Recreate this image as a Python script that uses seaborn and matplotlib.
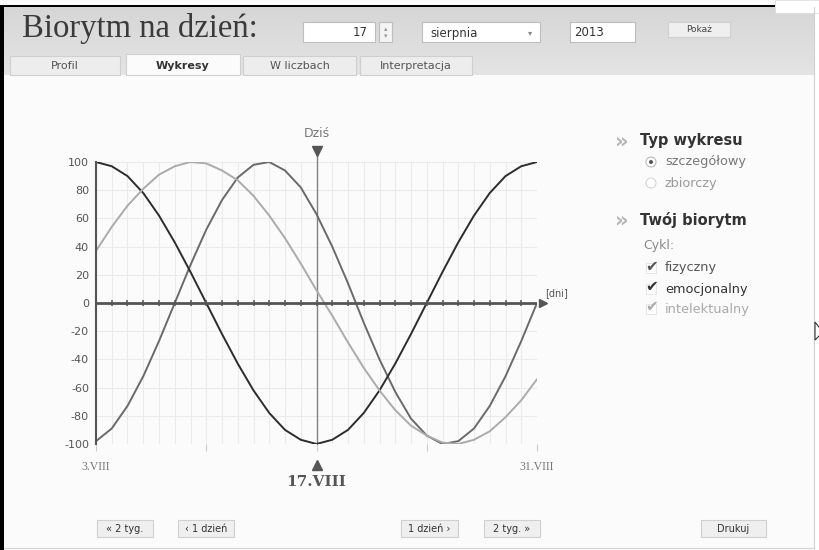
import numpy as np
import pandas as pd
import matplotlib
matplotlib.use("Agg")
import matplotlib.pyplot as plt
import seaborn as sns
from matplotlib.patches import Rectangle, Circle, Polygon

# dane (dzien 0 = 3.VIII, dzien 28 = 31.VIII)
dni = list(range(29))
fizyczny = [-98, -89, -73, -52, -27, 0, 27, 52, 73, 89, 98, 100, 94, 82, 63,
            40, 14, -14, -40, -63, -82, -94, -100, -98, -89, -73, -52, -27, 0]
emocjonalny = [100, 97, 90, 78, 62, 43, 22, 0, -22, -43, -62, -78, -90, -97, -100,
               -97, -90, -78, -62, -43, -22, 0, 22, 43, 62, 78, 90, 97, 100]
intelektualny = [37, 54, 69, 81, 91, 97, 100, 99, 94, 87, 76, 62, 46, 28, 9,
                 -9, -28, -46, -62, -76, -87, -94, -99, -100, -97, -91, -81, -69, -54]
cykle = ["fizyczny", "emocjonalny", "intelektualny"]
kolory = {"fizyczny": "#6a6a6a", "emocjonalny": "#2c2c2c", "intelektualny": "#ababab"}
y_ticks = [-100, -80, -60, -40, -20, 0, 20, 40, 60, 80, 100]
dzis = 14
etykieta_start = "3.VIII"
etykieta_koniec = "31.VIII"
etykieta_dzis = "17.VIII"
zakladki = ["Profil", "Wykresy", "W liczbach", "Interpretacja"]
przyciski = ["« 2 tyg.", "‹ 1 dzień", "1 dzień ›", "2 tyg. »", "Drukuj"]

sns.set_style("white")
plt.rcParams['font.family'] = ['DejaVu Sans']

W, H = 820, 550
fig = plt.figure(figsize=(8.2, 5.5), dpi=100)
fig.patch.set_facecolor("#fbfbfb")

# warstwa interfejsu w pikselach
ui = fig.add_axes([0, 0, 1, 1], zorder=0)
ui.set_xlim(0, W)
ui.set_ylim(H, 0)
ui.axis("off")


def px_axes(x0, y0, x1, y1):
    return [x0 / W, 1 - y1 / H, (x1 - x0) / W, (y1 - y0) / H]


# naglowek
grad = np.linspace(0, 1, 64).reshape(-1, 1)
ui.imshow(grad, extent=(4, 814, 75, 7), cmap=matplotlib.colors.LinearSegmentedColormap.from_list(
    "g", ["#d6d6d6", "#e4e4e4"]), aspect="auto", zorder=1)
ui.add_patch(Rectangle((4, 75), 810, 475, facecolor="#fbfbfb", edgecolor="none", zorder=1))
ui.text(22, 37, "Biorytm na dzień:", fontfamily="Liberation Serif", fontsize=23.5,
        color="#3a3a3a", va="baseline", zorder=3)

def pole(x0, x1, y0, y1, fc="#ffffff", ec="#bdbdbd"):
    ui.add_patch(Rectangle((x0, y0), x1 - x0, y1 - y0, facecolor=fc, edgecolor=ec, lw=0.8, zorder=2))

pole(303, 375, 22, 42)
ui.text(368, 33, "17", ha="right", va="center", fontsize=8.5, color="#333", zorder=3)
pole(379, 392, 22, 42, fc="#f4f4f4")
ui.text(385.5, 29, "▴", ha="center", va="center", fontsize=5, color="#999", zorder=3)
ui.text(385.5, 36, "▾", ha="center", va="center", fontsize=5, color="#999", zorder=3)
pole(422, 540, 22, 42)
ui.text(430, 33, "sierpnia", va="center", fontsize=8.5, color="#333", zorder=3)
ui.text(530, 33, "▾", ha="center", va="center", fontsize=6, color="#888", zorder=3)
pole(570, 635, 22, 42)
ui.text(574, 33, "2013", va="center", fontsize=8.5, color="#333", zorder=3)
pole(668, 730, 22, 37, fc="#efefef", ec="#cfcfcf")
ui.text(699, 29.5, "Pokaż", ha="center", va="center", fontsize=6.5, color="#444", zorder=3)

# zakladki
tab_x = [(10, 120), (126, 240), (243, 356), (360, 472)]
for (x0, x1), nazwa in zip(tab_x, zakladki):
    aktywna = nazwa == "Wykresy"
    ui.add_patch(Rectangle((x0, 54 if aktywna else 56), x1 - x0, 21 if aktywna else 19,
                           facecolor="#fbfbfb" if aktywna else "#ededed",
                           edgecolor="#cfcfcf", lw=0.8, zorder=2))
    ui.text((x0 + x1) / 2, 66, nazwa, ha="center", va="center", fontsize=8,
            fontweight="bold" if aktywna else "normal", color="#333" if aktywna else "#555", zorder=3)

# ramki
ui.add_patch(Rectangle((0, 5), 4, 545, facecolor="black", edgecolor="none", zorder=5))
ui.add_patch(Rectangle((0, 5), 775, 2, facecolor="black", edgecolor="none", zorder=5))
ui.add_patch(Rectangle((775, 0), 45, 13, facecolor="white", edgecolor="#dddddd", lw=0.6, zorder=5))
ui.plot([814, 814], [7, 550], color="#d0d0d0", lw=0.8, zorder=5)
ui.plot([4, 814], [548, 548], color="#d6d6d6", lw=0.8, zorder=5)
ui.add_patch(Rectangle((815, 13), 5, 537, facecolor="#ffffff", edgecolor="none", zorder=4))
ui.add_patch(Polygon([[815, 322], [815, 340], [819, 336], [822, 331]], closed=True,
                     facecolor="white", edgecolor="#333", lw=0.8, zorder=6))

# panel prawy
for y, txt in [(141, "Typ wykresu"), (220, "Twój biorytm")]:
    ui.text(615, y, "»", fontsize=15, fontweight="bold", color="#b5b5b5", va="center", zorder=3)
    ui.text(640, y, txt, fontsize=10.5, fontweight="bold", color="#333", va="center", zorder=3)
ui.add_patch(Circle((651, 162), 5, facecolor="white", edgecolor="#bbbbbb", lw=0.8, zorder=3))
ui.add_patch(Circle((651, 162), 2, facecolor="#555555", edgecolor="none", zorder=4))
ui.text(665, 162, "szczegółowy", fontsize=9.3, color="#777", va="center", zorder=3)
ui.add_patch(Circle((651, 183), 5, facecolor="white", edgecolor="#d5d5d5", lw=0.8, zorder=3))
ui.text(665, 183, "zbiorczy", fontsize=9.3, color="#9a9a9a", va="center", zorder=3)
ui.text(643, 245, "Cykl:", fontsize=9, color="#888", va="center", zorder=3)
for y, nazwa, kol in [(268, "fizyczny", "#555"), (289, "emocjonalny", "#333"),
                      (309, "intelektualny", "#aaa")]:
    ui.add_patch(Rectangle((646, y - 5), 10, 10, facecolor="white", edgecolor="#e2e2e2", lw=0.6, zorder=3))
    ui.text(652, y - 2, "✔", fontsize=11, color=kol, ha="center", va="center", zorder=4)
    ui.text(665, y, nazwa, fontsize=9.3, color=kol, va="center", zorder=3)

# przyciski
btn_x = [(97, 153), (178, 234), (401, 458), (484, 540), (701, 766)]
for (x0, x1), txt in zip(btn_x, przyciski):
    pole(x0, x1, 520, 537, fc="#efefef", ec="#d0d0d0")
    ui.text((x0 + x1) / 2, 528.5, txt, ha="center", va="center", fontsize=7, color="#333", zorder=3)

# wykres
ax = fig.add_axes(px_axes(96, 162, 537, 444), zorder=2)
ax.set_facecolor("none")
df = pd.DataFrame({
    "dzien": dni * 3,
    "wartosc": fizyczny + emocjonalny + intelektualny,
    "cykl": np.repeat(cykle, len(dni)),
})
sns.lineplot(data=df, x="dzien", y="wartosc", hue="cykl", palette=kolory, linewidth=1.4,
             legend=False, ax=ax, zorder=4)
ax.set_xlim(0, 28)
ax.set_ylim(-100, 100)
ax.set_xticks(dni)
ax.set_xticklabels([])
ax.set_yticks(y_ticks)
ax.set_yticklabels([str(v) for v in y_ticks], fontsize=8, color="#555")
ax.tick_params(length=0, pad=5)
ax.grid(True, color="#ebebeb", lw=0.8)
ax.set_axisbelow(True)
ax.set_xlabel("")
ax.set_ylabel("")
for s in ["top", "right", "bottom"]:
    ax.spines[s].set_visible(False)
ax.spines["left"].set_color("#555")
ax.spines["left"].set_linewidth(1.5)
ax.spines["left"].set_zorder(5)

# os zero ze strzalka
ax.axhline(0, color="#555", lw=2, zorder=5)
ax.vlines(dni[1:-1], -2, 2, color="#555", lw=1.1, zorder=5)
ax.plot([28.35], [0], marker=">", ms=6, color="#555", clip_on=False, zorder=6)
ax.text(28.5, 7, "[dni]", fontsize=7, color="#555", ha="left", va="center")
ax.vlines([0, 7, 14, 21, 28], -105, -100, color="#cccccc", lw=0.8, clip_on=False)

# dzis
ax.plot([dzis, dzis], [-100, 108], color="#808080", lw=1, clip_on=False, zorder=3)
ax.plot([dzis], [108], marker="v", ms=7, color="#555", clip_on=False, zorder=6)
ax.text(dzis, 120, "Dziś", ha="center", va="center", fontsize=9, color="#777")
ax.plot([dzis], [-115], marker="^", ms=7, color="#555", clip_on=False, zorder=6)
ax.text(dzis, -127, etykieta_dzis, ha="center", va="center", fontsize=11, fontweight="bold",
        color="#555", fontfamily="DejaVu Serif")
ax.text(0, -116, etykieta_start, ha="center", va="center", fontsize=8.5, color="#777",
        fontfamily="Liberation Serif")
ax.text(28, -116, etykieta_koniec, ha="center", va="center", fontsize=8.5, color="#777",
        fontfamily="Liberation Serif")

fig.savefig("out.png", dpi=100, facecolor=fig.get_facecolor())
